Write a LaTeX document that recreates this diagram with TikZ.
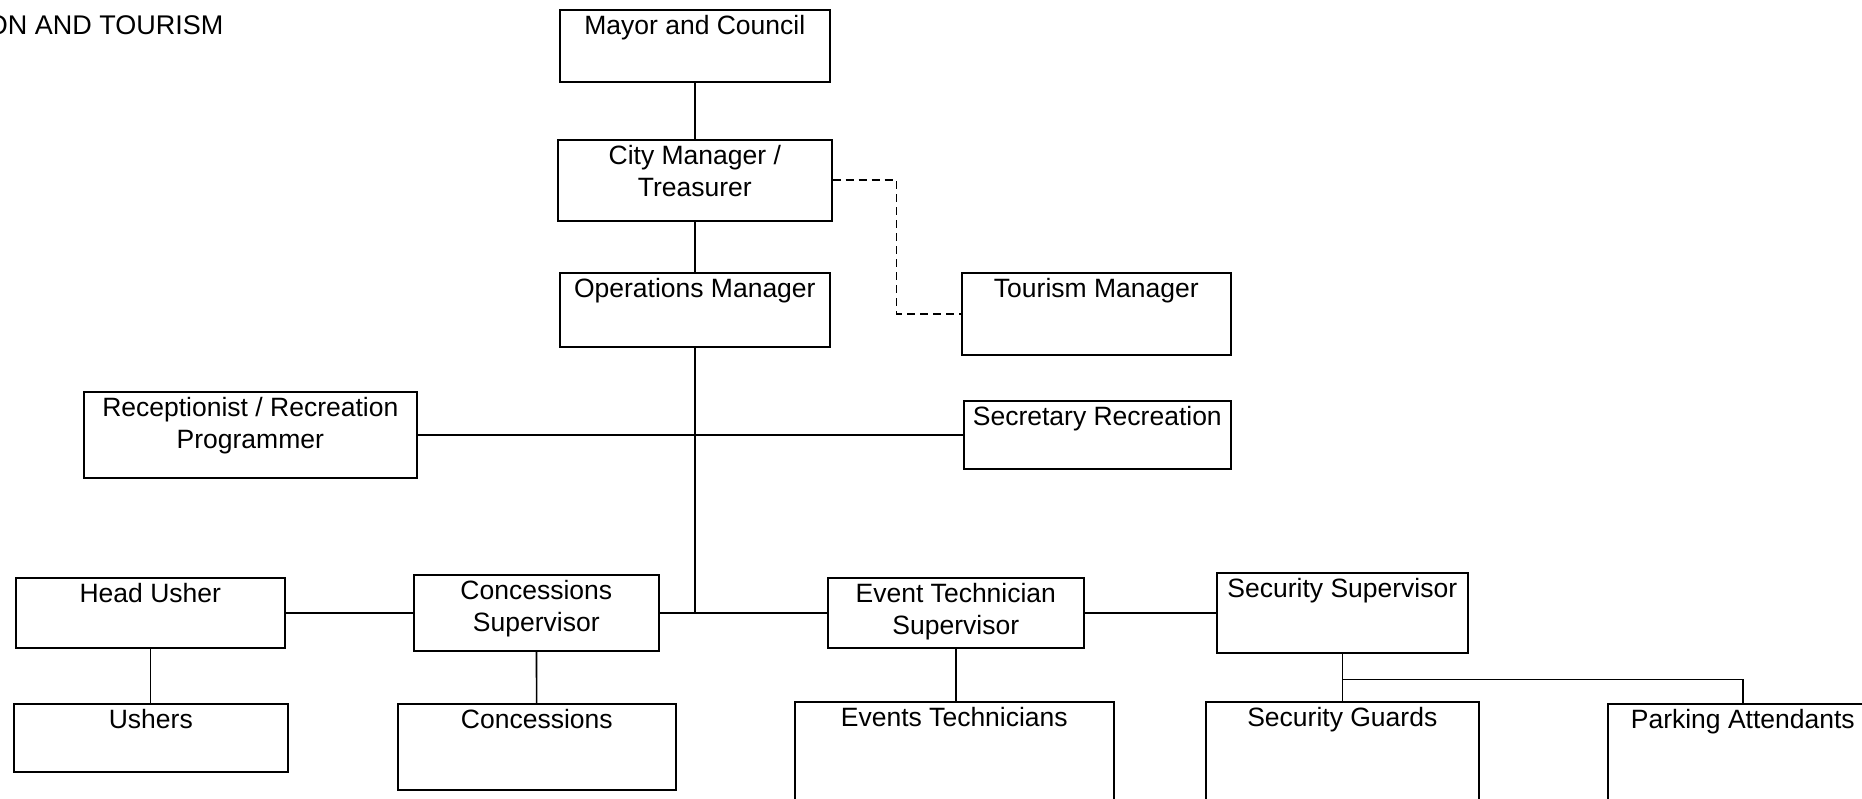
\documentclass[tikz,border=0pt]{standalone}
\usepackage{fontspec}
\setmainfont{Liberation Sans}
\usepackage{tikz}
\usetikzlibrary{positioning}

\tikzset{
    orgbox/.style={draw=black, line width=1.6pt, anchor=north west, inner sep=0pt},
    boxtext/.style={anchor=north, align=center, inner sep=0pt, yshift=-6.5pt},
    link/.style={line width=1.6pt}
}

\begin{document}
\begin{tikzpicture}[x=1pt, y=-1pt, font=\fontsize{26.5}{32}\selectfont]
        \useasboundingbox (0, 0) rectangle (1862, 799);
        \node(title) [anchor=base east, font=\fontsize{27}{32}\selectfont] at (227, 35) {ON AND TOURISM};
        % top of the chart
        \node(mayor) [orgbox, minimum width=270, minimum height=72, label={[boxtext]north:Mayor and Council}] at (559, 9) {};
        \node(city) [orgbox, minimum width=274, minimum height=81, label={[boxtext]north:{City Manager /\\Treasurer}}] at (557, 139) {};
        \node(ops) [orgbox, minimum width=270, minimum height=74, label={[boxtext]north:Operations Manager}] at (559, 272) {};
        \node(tourism) [orgbox, minimum width=269, minimum height=82, label={[boxtext]north:Tourism Manager}] at (961, 272) {};
        \node(recep) [orgbox, minimum width=333, minimum height=86, label={[boxtext]north:{Receptionist / Recreation\\Programmer}}] at (83, 391) {};
        \node(secretary) [orgbox, minimum width=267, minimum height=68, label={[boxtext]north:Secretary Recreation}] at (963, 400) {};
        % supervisors
        \node(headusher) [orgbox, minimum width=269, minimum height=70, label={[boxtext]north:Head Usher}] at (15, 577) {};
        \node(concsup) [orgbox, minimum width=245, minimum height=76, label={[boxtext]north:{Concessions\\Supervisor}}] at (413, 574) {};
        \node(eventsup) [orgbox, minimum width=256, minimum height=70, label={[boxtext]north:{Event Technician\\Supervisor}}] at (827, 577) {};
        \node(secsup) [orgbox, minimum width=251, minimum height=80, label={[boxtext]north:Security Supervisor}] at (1216, 572) {};
        % staff
        \node(ushers) [orgbox, minimum width=274, minimum height=68, label={[boxtext]north:Ushers}] at (13, 703) {};
        \node(conc) [orgbox, minimum width=278, minimum height=86, label={[boxtext]north:Concessions}] at (397, 703) {};
        \node(eventtech) [orgbox, minimum width=319, minimum height=120, label={[boxtext]north:Events Technicians}] at (794, 701) {};
        \node(guards) [orgbox, minimum width=273, minimum height=120, label={[boxtext]north:Security Guards}] at (1205, 701) {};
        \node(parking) [orgbox, minimum width=270, minimum height=120, label={[boxtext]north:Parking Attendants}] at (1607, 703) {};

        \draw[link] (mayor.south) -- (mayor.south |- city.north);
        \draw[link] (city) -- (ops);
        \draw[link, dashed, dash pattern=on 8pt off 5pt] (city.east) -- ++(64, 0) |- (tourism.west);
        \draw[link] (ops.south) -- (ops.south |- concsup.east);
        \draw[link] (recep.east) -- (secretary.west);
        \draw[link] (headusher.east) -- (concsup.west);
        \draw[link] (concsup.east) -- (eventsup.west);
        \draw[link] (eventsup.east) -- (secsup.west);
        \draw[link] (headusher.south) -- (headusher.south |- ushers.north);
        \draw[link] (concsup) -- (conc);
        \draw[link] (eventsup.south) -- (eventsup.south |- eventtech.north);
        \draw[link] (secsup.south) -- (guards.north);
        \draw[link] (secsup.south) -- ++(0, 26) -| (parking.north);
    \end{tikzpicture}
\end{document}
